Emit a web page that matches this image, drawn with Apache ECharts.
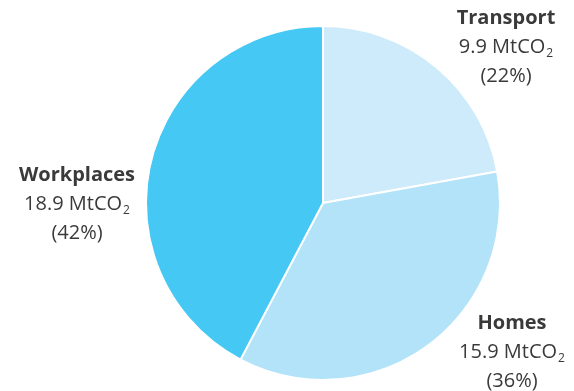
<!DOCTYPE html>
<html><head><meta charset="utf-8">
<script src="https://cdn.jsdelivr.net/npm/echarts@6/dist/echarts.min.js"></script>
<style>html,body{margin:0;padding:0;background:#fff}#c{width:574px;height:391px}</style>
</head><body><div id="c"></div>
<script>
var categories = ['Transport', 'Homes', 'Workplaces'];
var values = [9.9, 15.9, 18.9];
var percents = ['22%', '36%', '42%'];
var colors = ['#cdebfa', '#b3e3f8', '#45c8f4'];
var labelPos = [[506, 47], [512, 352], [77, 204]];

var chart = echarts.init(document.getElementById('c'));
var data = categories.map(function (c, i) {
  return { name: c, value: values[i], itemStyle: { color: colors[i] } };
});
chart.setOption({
  animation: false,
  series: [{
    type: 'pie',
    center: [323, 203],
    radius: [0, 177],
    startAngle: 90,
    clockwise: true,
    data: data,
    itemStyle: { borderColor: '#fff', borderWidth: 2 },
    labelLine: { show: false },
    label: {
      show: true,
      position: 'outside',
      align: 'center',
      width: 220,
      overflow: 'none',
      color: '#3a3a3a',
      fontFamily: 'Open Sans',
      fontSize: 20,
      formatter: function (p) {
        return '{b|' + p.name + '}\n{v|' + p.value + ' MtCO}{s|2}\n{v|(' + percents[p.dataIndex] + ')}';
      },
      rich: {
        b: { fontSize: 20, fontWeight: 'bold', fontFamily: 'Open Sans', color: '#3a3a3a', lineHeight: 29 },
        v: { fontSize: 20, fontFamily: 'Open Sans', color: '#3a3a3a', lineHeight: 29 },
        s: { fontSize: 12, fontFamily: 'Open Sans', color: '#3a3a3a', lineHeight: 29, padding: [14, 0, 0, 1] }
      }
    },
    labelLayout: function (p) {
      var pos = labelPos[p.dataIndex];
      return { x: pos[0], y: pos[1], align: 'center', verticalAlign: 'middle', hideOverlap: false };
    }
  }]
});
</script></body></html>
